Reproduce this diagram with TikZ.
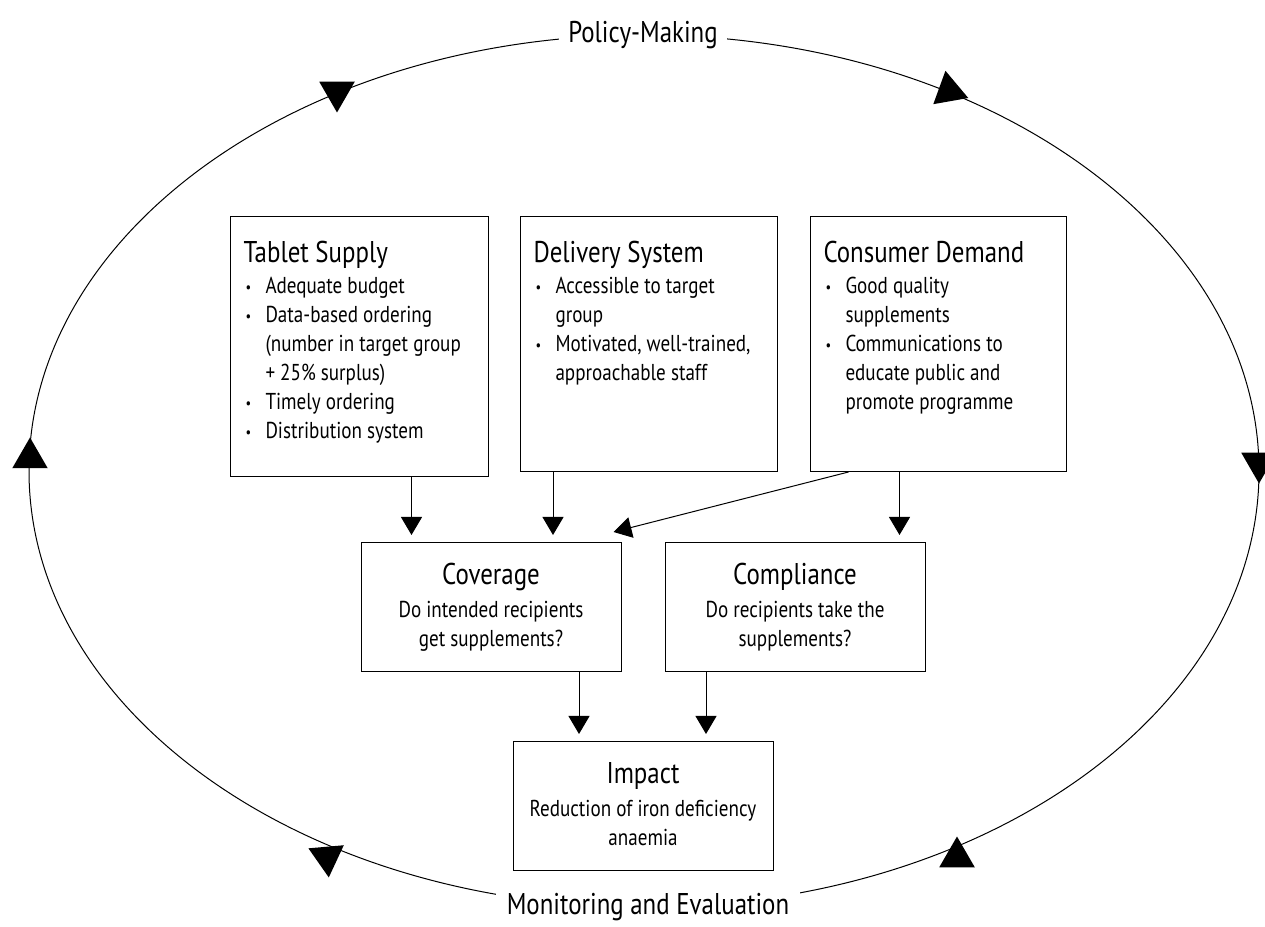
\documentclass[tikz,border=0pt]{standalone}
\usepackage{fontspec}
\setmainfont{PT Sans}[FakeStretch=0.83]
\usetikzlibrary{positioning, shapes.geometric, arrows.meta}
\newcommand{\tfont}{\fontsize{30}{31}\selectfont}
\newcommand{\bfont}{\fontsize{23}{29}\selectfont}
\newcommand{\bul}[1]{\par\hangindent=22pt\hangafter=1\noindent\hspace*{2pt}\makebox[20pt][l]{\raisebox{1pt}{\fontsize{15}{15}\selectfont\textbullet}}#1}
\newcommand{\ttl}[2]{\rule{0pt}{#1}{\tfont #2}\par}

\begin{document}
\begin{tikzpicture}[x=1pt, y=1pt, main/.style = {draw, inner xsep=13pt, inner ysep=0pt}, tri/.style = {regular polygon, regular polygon sides=3, fill, inner sep=0pt, minimum size=41pt}, arr/.style = {-{Triangle[length=18pt, width=21pt]}, shorten >=7pt}, line width=1pt]
\useasboundingbox (0,0) rectangle (1265,926);
\draw (644,455) ellipse [x radius=615, y radius=436];
\node[fill=white, inner xsep=9pt, font=\tfont] (pm) at (643,891) {Policy-Making};
\node[fill=white, inner xsep=11pt, font=\tfont] (me) at (648,19) {Monitoring and Evaluation};
\node[tri, rotate=180] (t1) at (337,834) {};
\node[tri, rotate=10] (t2) at (949,835) {};
\node[tri] (t3) at (30,468) {};
\node[tri, rotate=180] (t4) at (1259,463) {};
\node[tri, rotate=185] (t5) at (327,69) {};
\node[tri] (t6) at (957,69) {};
\node[main, anchor=north west] (ts) at (230,710) {\begin{minipage}[c][260pt][t]{232pt}\raggedright\bfont\ttl{46pt}{Tablet Supply}\vspace{2pt}
\bul{Adequate budget}
\bul{Data-based ordering\newline (number in target group\newline + 25\% surplus)}
\bul{Timely ordering}
\bul{Distribution system}\end{minipage}};
\node[main, right=31pt of ts.north east, anchor=north west] (ds) {\begin{minipage}[c][255pt][t]{231pt}\raggedright\bfont\ttl{46pt}{Delivery System}\vspace{2pt}
\bul{Accessible to target\newline group}
\bul{Motivated, well-trained,\newline approachable staff}\end{minipage}};
\node[main, right=32pt of ds.north east, anchor=north west] (cd) {\begin{minipage}[c][255pt][t]{230pt}\raggedright\bfont\ttl{46pt}{Consumer Demand}\vspace{2pt}
\bul{Good quality\newline supplements}
\bul{Communications to\newline educate public and\newline promote programme}\end{minipage}};
\node[main] (cv) at (491,319) {\begin{minipage}[c][129pt][t]{234pt}\centering\bfont\ttl{42pt}{Coverage}\vspace{4pt}
Do intended recipients\\ get supplements?\end{minipage}};
\node[main] (cm) at (795,319) {\begin{minipage}[c][129pt][t]{234pt}\centering\bfont\ttl{42pt}{Compliance}\vspace{4pt}
Do recipients take the\\ supplements?\end{minipage}};
\node[main] (im) at (643,120) {\begin{minipage}[c][129pt][t]{234pt}\centering\bfont\ttl{42pt}{Impact}\vspace{4pt}
Reduction of iron deficiency\\ anaemia\end{minipage}};
\draw[arr] ([xshift=52pt]ts.south) -- ([xshift=52pt]ts.south |- cv.north);
\draw[arr] ([xshift=-96pt]ds.south) -- ([xshift=-96pt]ds.south |- cv.north);
\draw[arr, shorten >=0pt] ([xshift=-90pt]cd.south) -- ([xshift=-8pt, yshift=10pt]cv.north east);
\draw[arr] ([xshift=-39pt]cd.south) -- ([xshift=-39pt]cd.south |- cm.north);
\draw[arr] ([xshift=88pt]cv.south) -- ([xshift=88pt]cv.south |- im.north);
\draw[arr] ([xshift=-89pt]cm.south) -- ([xshift=-89pt]cm.south |- im.north);
\end{tikzpicture}
\end{document}
